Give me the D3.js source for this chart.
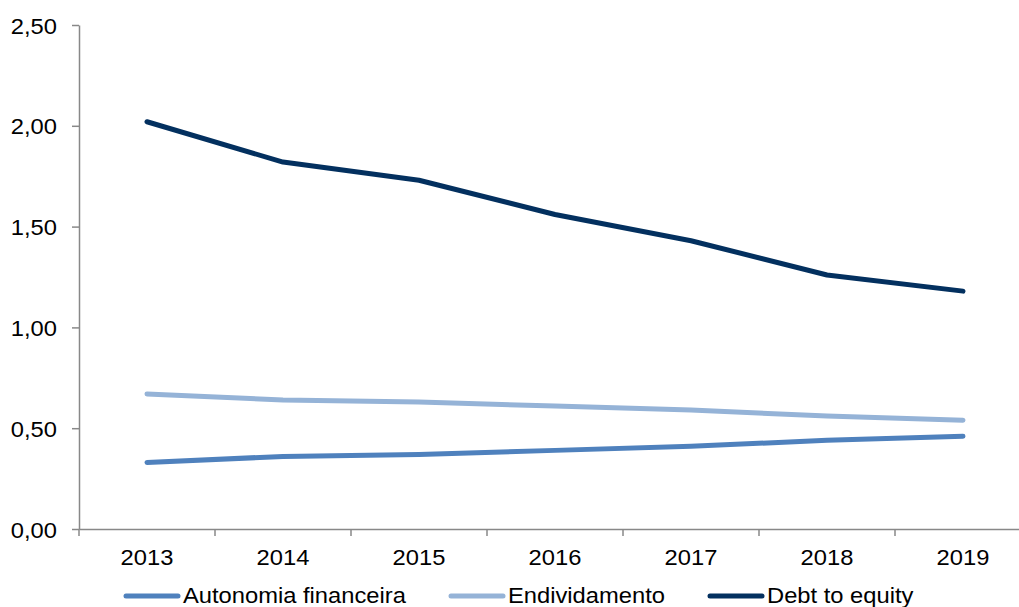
<!DOCTYPE html>
<html><head><meta charset="utf-8">
<script src="https://cdn.jsdelivr.net/npm/d3@7"></script>
<style>body{margin:0;background:#fff;}svg{display:block;font-family:"Liberation Sans",Arial,sans-serif;}</style>
</head><body>
<svg id="chart" width="1019" height="607"></svg>
<script>
const years = ["2013","2014","2015","2016","2017","2018","2019"];
const autonomia = [0.33,0.36,0.37,0.39,0.41,0.44,0.46];
const endividamento = [0.67,0.64,0.63,0.61,0.59,0.56,0.54];
const debtToEquity = [2.02,1.82,1.73,1.56,1.43,1.26,1.18];
const seriesNames = ["Autonomia financeira","Endividamento","Debt to equity"];
const yTicks = [0,0.5,1,1.5,2,2.5];

const colors = ["#4F81BD","#95B3D7","#03305F"];
const seriesData = [autonomia, endividamento, debtToEquity];
const SX = 1.055; // horizontal text stretch seen in the reference
const FS = 22.5;

const svg = d3.select("#chart");
const x = d3.scaleBand().domain(years).range([79,1031]);
const y = d3.scaleLinear().domain([0,2.5]).range([529,25]);
const fmt = v => d3.format(".2f")(v).replace(".", ",");

// y axis
const ya = svg.append("g").attr("transform","translate(79,0)")
  .call(d3.axisLeft(y).tickValues(yTicks).tickSize(7).tickSizeOuter(0).tickPadding(22).tickFormat(fmt));
ya.select(".domain").attr("stroke","#888").attr("stroke-width",1.5);
ya.selectAll(".tick line").attr("stroke","#888").attr("stroke-width",1.5);
ya.selectAll("text").attr("font-size",FS).attr("fill","#000").attr("dy","0.36em")
  .attr("x",-22/SX).attr("transform",`scale(${SX},1)`);

// x axis
const xa = svg.append("g").attr("transform","translate(0,529)")
  .call(d3.axisBottom(x).tickSize(0).tickPadding(20));
xa.select(".domain").attr("stroke","#888").attr("stroke-width",1.5);
xa.selectAll("text").attr("font-size",FS).attr("fill","#000").attr("transform",`scale(${SX},1)`);
// category boundary ticks
const bounds = years.map(d => x(d));
svg.append("g").selectAll("line").data(bounds).join("line")
  .attr("x1",d=>d).attr("x2",d=>d).attr("y1",529).attr("y2",536)
  .attr("stroke","#888").attr("stroke-width",1.5);

// lines
const line = d3.line().x((d,i)=>x(years[i])+x.bandwidth()/2).y(d=>y(d));
seriesData.forEach((s,k)=>{
  svg.append("path").datum(s).attr("d",line).attr("fill","none")
    .attr("stroke",colors[k]).attr("stroke-width",5).attr("stroke-linecap","round").attr("stroke-linejoin","round");
});

// legend
const legendX = [126,451,710];
seriesNames.forEach((n,k)=>{
  const g = svg.append("g").attr("transform",`translate(${legendX[k]},596)`);
  g.append("line").attr("x1",0).attr("x2",52).attr("y1",0).attr("y2",0)
    .attr("stroke",colors[k]).attr("stroke-width",5).attr("stroke-linecap","round");
  g.append("g").attr("transform",`translate(57,7) scale(${SX},1)`)
    .append("text").attr("font-size",FS).attr("fill","#000").text(n);
});
</script>
</body></html>
